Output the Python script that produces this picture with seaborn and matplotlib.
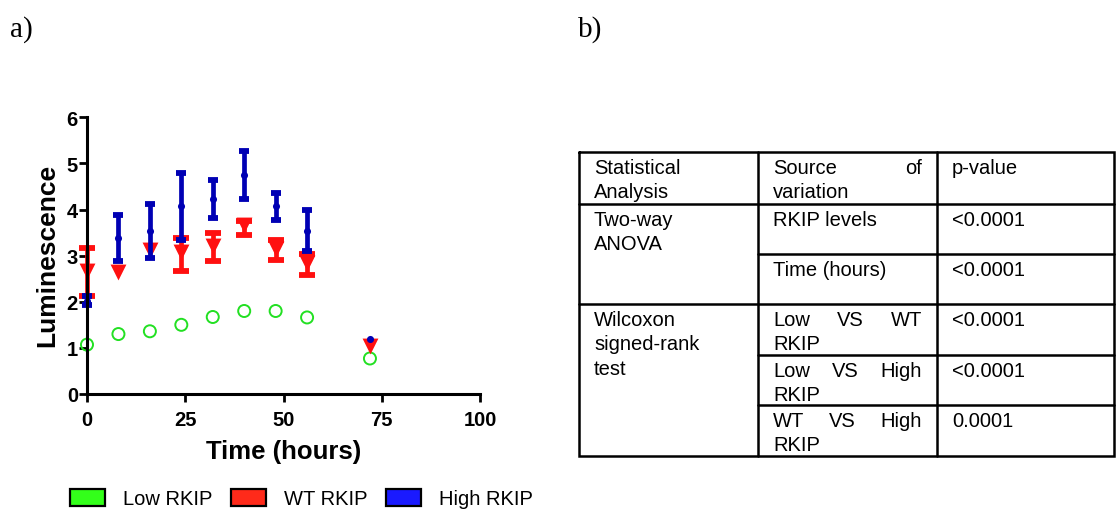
import numpy as np
import pandas as pd
import matplotlib
matplotlib.use("Agg")
import matplotlib.pyplot as plt
from matplotlib.patches import Patch
import seaborn as sns

# ---------------- data ----------------
time_h = [0, 8, 16, 24, 32, 40, 48, 56, 72]
low_mean = [1.07, 1.30, 1.36, 1.50, 1.67, 1.80, 1.80, 1.66, 0.77]
wt_mean = [2.66, 2.64, 3.13, 3.07, 3.22, 3.67, 3.15, 2.83, 1.05]
wt_lower = [2.12, np.nan, np.nan, 2.66, 2.88, 3.45, 2.91, 2.58, np.nan]
wt_upper = [3.16, np.nan, np.nan, 3.38, 3.49, 3.75, 3.35, 3.04, np.nan]
high_mean = [2.02, 3.38, 3.53, 4.07, 4.22, 4.74, 4.08, 3.54, 1.19]
high_lower = [1.92, 2.89, 2.95, 3.35, 3.81, 4.22, 3.78, 3.09, np.nan]
high_upper = [2.12, 3.88, 4.11, 4.79, 4.63, 5.26, 4.36, 3.98, np.nan]

x_ticks = [0, 25, 50, 75, 100]
y_ticks = [0, 1, 2, 3, 4, 5, 6]
legend_labels = ["Low RKIP", "WT RKIP", "High RKIP"]

table_header = [["Statistical", "Analysis"], ["Source of", "variation"], ["p-value"]]
anova_label = ["Two-way", "ANOVA"]
anova_sources = [["RKIP levels"], ["Time (hours)"]]
anova_p = ["<0.0001", "<0.0001"]
wilcoxon_label = ["Wilcoxon", "signed-rank", "test"]
wilcoxon_sources = [["Low VS WT", "RKIP"], ["Low VS High", "RKIP"], ["WT VS High", "RKIP"]]
wilcoxon_p = ["<0.0001", "<0.0001", "0.0001"]

# ---------------- style ----------------
sns.set_style("white")
plt.rcParams["font.family"] = ["Liberation Sans", "DejaVu Sans"]
plt.rcParams["text.color"] = "black"
plt.rcParams["axes.labelcolor"] = "black"
plt.rcParams["xtick.color"] = "black"
plt.rcParams["ytick.color"] = "black"

W, H = 1117, 510
fig = plt.figure(figsize=(W / 100, H / 100), dpi=100)

def fx(px):
    return px / W

def fy(py):
    return 1 - py / H

ax_l, ax_r, ax_t, ax_b = 87, 480, 118.3, 395
ax = fig.add_axes([fx(ax_l), fy(ax_b), fx(ax_r - ax_l), (ax_b - ax_t) / H])

df_low = pd.DataFrame({"t": time_h, "v": low_mean})
df_wt = pd.DataFrame({"t": time_h, "v": wt_mean, "lo": wt_lower, "hi": wt_upper})
df_high = pd.DataFrame({"t": time_h, "v": high_mean, "lo": high_lower, "hi": high_upper})

green = "#22E022"
red = "#FF1010"
blue = "#0000B4"

sns.scatterplot(data=df_low, x="t", y="v", ax=ax, marker="o", s=75,
                facecolor="none", edgecolor=green, linewidth=1.4,
                clip_on=False, zorder=3, legend=False)

e = df_wt.dropna()
ax.errorbar(e["t"], e["v"], yerr=[e["v"] - e["lo"], e["hi"] - e["v"]], fmt="none",
            ecolor=red, elinewidth=3.4, capsize=6, capthick=4.2, clip_on=False, zorder=3)
sns.scatterplot(data=df_wt, x="t", y="v", ax=ax, marker="v", s=130,
                color=red, edgecolor=red, linewidth=0,
                clip_on=False, zorder=3, legend=False)

e = df_high.dropna()
ax.errorbar(e["t"], e["v"], yerr=[e["v"] - e["lo"], e["hi"] - e["v"]], fmt="none",
            ecolor=blue, elinewidth=3.4, capsize=3.8, capthick=4.2, clip_on=False, zorder=3.2)
sns.scatterplot(data=df_high, x="t", y="v", ax=ax, marker="o", s=26,
                color=blue, edgecolor=blue, linewidth=0,
                clip_on=False, zorder=3.3, legend=False)

ax.set_xlim(0, 100)
ax.set_ylim(0, 6)
ax.set_xticks(x_ticks)
ax.set_yticks(y_ticks)
ax.set_xticklabels([str(v) for v in x_ticks])
ax.set_yticklabels([str(v) for v in y_ticks])
ax.tick_params(axis="both", direction="out", length=5.5, width=2, color="black",
               labelsize=14.5, labelcolor="black", bottom=True, left=True,
               top=False, right=False)
for lab in ax.get_xticklabels() + ax.get_yticklabels():
    lab.set_fontweight("bold")
ax.tick_params(axis="x", pad=6)
ax.tick_params(axis="y", pad=1)
for side in ["top", "right"]:
    ax.spines[side].set_visible(False)
for side in ["left", "bottom"]:
    ax.spines[side].set_linewidth(2.2)
    ax.spines[side].set_color("black")
    ax.spines[side].set_zorder(5)
ax.set_facecolor("none")
ax.grid(False)

ax.set_xlabel("Time (hours)", fontweight="bold", fontsize=18.5, color="black")
ax.set_ylabel("Luminescence", fontweight="bold", fontsize=19, color="black")
ax.xaxis.set_label_coords(0.5, (ax_b - 452) / (ax_b - ax_t))
ax.xaxis.label.set_va("center")
ax.yaxis.set_label_coords((47 - ax_l) / (ax_r - ax_l), 0.504)
ax.yaxis.label.set_va("center")

# legend
handles = [Patch(facecolor=c, edgecolor="black", linewidth=1.6)
           for c in ["#33FF1A", "#FF2A1A", "#1A1AFF"]]
fig.legend(handles, legend_labels, loc="center left", bbox_to_anchor=(fx(70), fy(499.5)),
           ncol=3, frameon=False, fontsize=14.5, handlelength=1.75, handleheight=0.9,
           handletextpad=0.9, columnspacing=0.9, borderpad=0, borderaxespad=0,
           labelcolor="black")

# panel letters
fig.text(fx(10), fy(37), "a)", family="Liberation Serif", fontsize=21, va="baseline",
         color="black")
fig.text(fx(578), fy(37), "b)", family="Liberation Serif", fontsize=21, va="baseline",
         color="black")

# ---------------- table ----------------
tl, tr, tt, tb = 579, 1114, 153, 457
c1, c2 = 758, 937
tax = fig.add_axes([fx(tl), fy(tb), fx(tr - tl), (tb - tt) / H])
tax.set_xlim(tl, tr)
tax.set_ylim(tb, tt)
tax.axis("off")

lw = 1.8
r_head, r_anova_mid, r_wil = 205, 255, 305
r_w1, r_w2 = 356, 406
tax.plot([tl, tr, tr, tl, tl], [tt, tt, tb, tb, tt], color="black", lw=lw, clip_on=False,
         solid_joinstyle="miter")
for xv in [c1, c2]:
    tax.plot([xv, xv], [tt, tb], color="black", lw=lw, clip_on=False)
for yv in [r_head, r_wil]:
    tax.plot([tl, tr], [yv, yv], color="black", lw=lw, clip_on=False)
for yv in [r_anova_mid, r_w1, r_w2]:
    tax.plot([c1, tr], [yv, yv], color="black", lw=lw, clip_on=False)

fs = 14.5
line_h = 24.5
pad_l = 15
renderer = fig.canvas.get_renderer()


def text_width(s):
    t = tax.text(0, 0, s, fontsize=fs)
    w = t.get_window_extent(renderer).width
    t.remove()
    return w


def put_lines(lines, x0, x1, top, justify_first=False):
    for i, line in enumerate(lines):
        yb = top + 21 + i * line_h
        words = line.split(" ")
        if justify_first and i < len(lines) - 1 and len(words) > 1:
            widths = [text_width(w) for w in words]
            gap = ((x1 - x0) - sum(widths)) / (len(words) - 1)
            xc = x0
            for w, wd in zip(words, widths):
                tax.text(xc, yb, w, fontsize=fs, va="baseline", ha="left", color="black")
                xc += wd + gap
        else:
            tax.text(x0, yb, line, fontsize=fs, va="baseline", ha="left", color="black")


col_x = [(tl + pad_l, c1 - 15), (c1 + pad_l, c2 - 15), (c2 + pad_l, tr - 15)]

put_lines(table_header[0], *col_x[0], tt)
put_lines(table_header[1], *col_x[1], tt, justify_first=True)
put_lines(table_header[2], *col_x[2], tt)

put_lines(anova_label, *col_x[0], r_head)
for top, src, p in zip([r_head, r_anova_mid], anova_sources, anova_p):
    put_lines(src, *col_x[1], top, justify_first=True)
    put_lines([p], *col_x[2], top)

put_lines(wilcoxon_label, *col_x[0], r_wil)
for top, src, p in zip([r_wil, r_w1, r_w2], wilcoxon_sources, wilcoxon_p):
    put_lines(src, *col_x[1], top, justify_first=True)
    put_lines([p], *col_x[2], top)

fig.savefig("out.png", dpi=100)
